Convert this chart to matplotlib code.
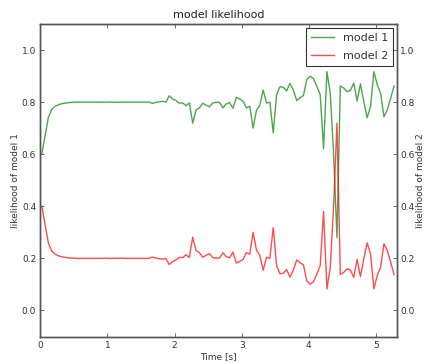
import numpy as np
import matplotlib
matplotlib.use("Agg")
import matplotlib.pyplot as plt

# sample times [s]
t_start = 0.02
dt = 0.05

# likelihood of model 2 at each sample; model 1 is its complement
model2 = [
    0.400, 0.330, 0.258, 0.228, 0.216, 0.210, 0.206, 0.204, 0.202, 0.201,
    0.2005, 0.200, 0.200, 0.200, 0.200, 0.200, 0.200, 0.200, 0.200, 0.201,
    0.200, 0.200, 0.201, 0.200, 0.201, 0.200, 0.200, 0.200, 0.200, 0.200,
    0.200, 0.200, 0.200, 0.205, 0.201, 0.199, 0.197, 0.200, 0.176, 0.188,
    0.194, 0.204, 0.203, 0.214, 0.203, 0.281, 0.230, 0.222, 0.204, 0.212,
    0.218, 0.203, 0.201, 0.201, 0.222, 0.207, 0.202, 0.224, 0.182, 0.188,
    0.196, 0.222, 0.216, 0.300, 0.232, 0.212, 0.154, 0.204, 0.200, 0.318,
    0.172, 0.141, 0.143, 0.157, 0.128, 0.155, 0.194, 0.183, 0.175, 0.113,
    0.101, 0.110, 0.140, 0.172, 0.380, 0.083, 0.166, 0.400, 0.720, 0.138,
    0.146, 0.160, 0.155, 0.127, 0.196, 0.130, 0.198, 0.260, 0.217, 0.083,
    0.134, 0.166, 0.256, 0.230, 0.185, 0.138,
]
model1 = [1.0 - v for v in model2]

series_labels = ["model 1", "model 2"]
y_ticks = [0.0, 0.2, 0.4, 0.6, 0.8, 1.0]
x_ticks = [0, 1, 2, 3, 4, 5]

t = t_start + dt * np.arange(len(model2))

plt.rcParams["font.family"] = ["DejaVu Sans"]
fig = plt.figure(figsize=(4.25, 3.63), dpi=100)
ax = fig.add_axes([0.095, 0.073, 0.84, 0.861])
ax2 = ax.twinx()

l1, = ax.plot(t, model1, color="#008000", alpha=0.7, lw=1.0, label=series_labels[0])
l2, = ax2.plot(t, model2, color="#ff0000", alpha=0.7, lw=1.0, label=series_labels[1])

for a in (ax, ax2):
    a.set_ylim(-0.1, 1.1)
    a.set_xlim(0, 5.32)
    a.set_yticks(y_ticks)
    a.set_yticklabels([f"{v:.1f}" for v in y_ticks])
    for s in a.spines.values():
        s.set_color("#555555")
        s.set_linewidth(1.0)
    a.tick_params(direction="in", length=3, width=0.6, colors="#555555",
                  labelcolor="#333333", labelsize=6.5)

ax.set_xticks(x_ticks)
ax.tick_params(axis="x", top=True, pad=3)
ax.tick_params(axis="y", pad=3)
ax2.tick_params(axis="y", pad=2)

ax.set_xlabel("Time [s]", fontsize=6.5, color="#333333", labelpad=2)
ax.set_ylabel("likelihood of model 1", fontsize=6.5, color="#333333", labelpad=1)
ax2.set_ylabel("likelihood of model 2", fontsize=6.5, color="#333333", labelpad=1)
ax.set_title("model likelihood", fontsize=8, color="#222222", pad=4)

leg = ax2.legend([l1, l2], series_labels, loc="upper right", fontsize=8,
                 fancybox=False, framealpha=1, edgecolor="#333333",
                 borderaxespad=0.4, handlelength=2.1, handletextpad=0.8,
                 labelspacing=0.75, borderpad=0.4)
leg.get_frame().set_linewidth(0.8)
for txt in leg.get_texts():
    txt.set_color("#333333")

fig.savefig("out.png", dpi=100)
